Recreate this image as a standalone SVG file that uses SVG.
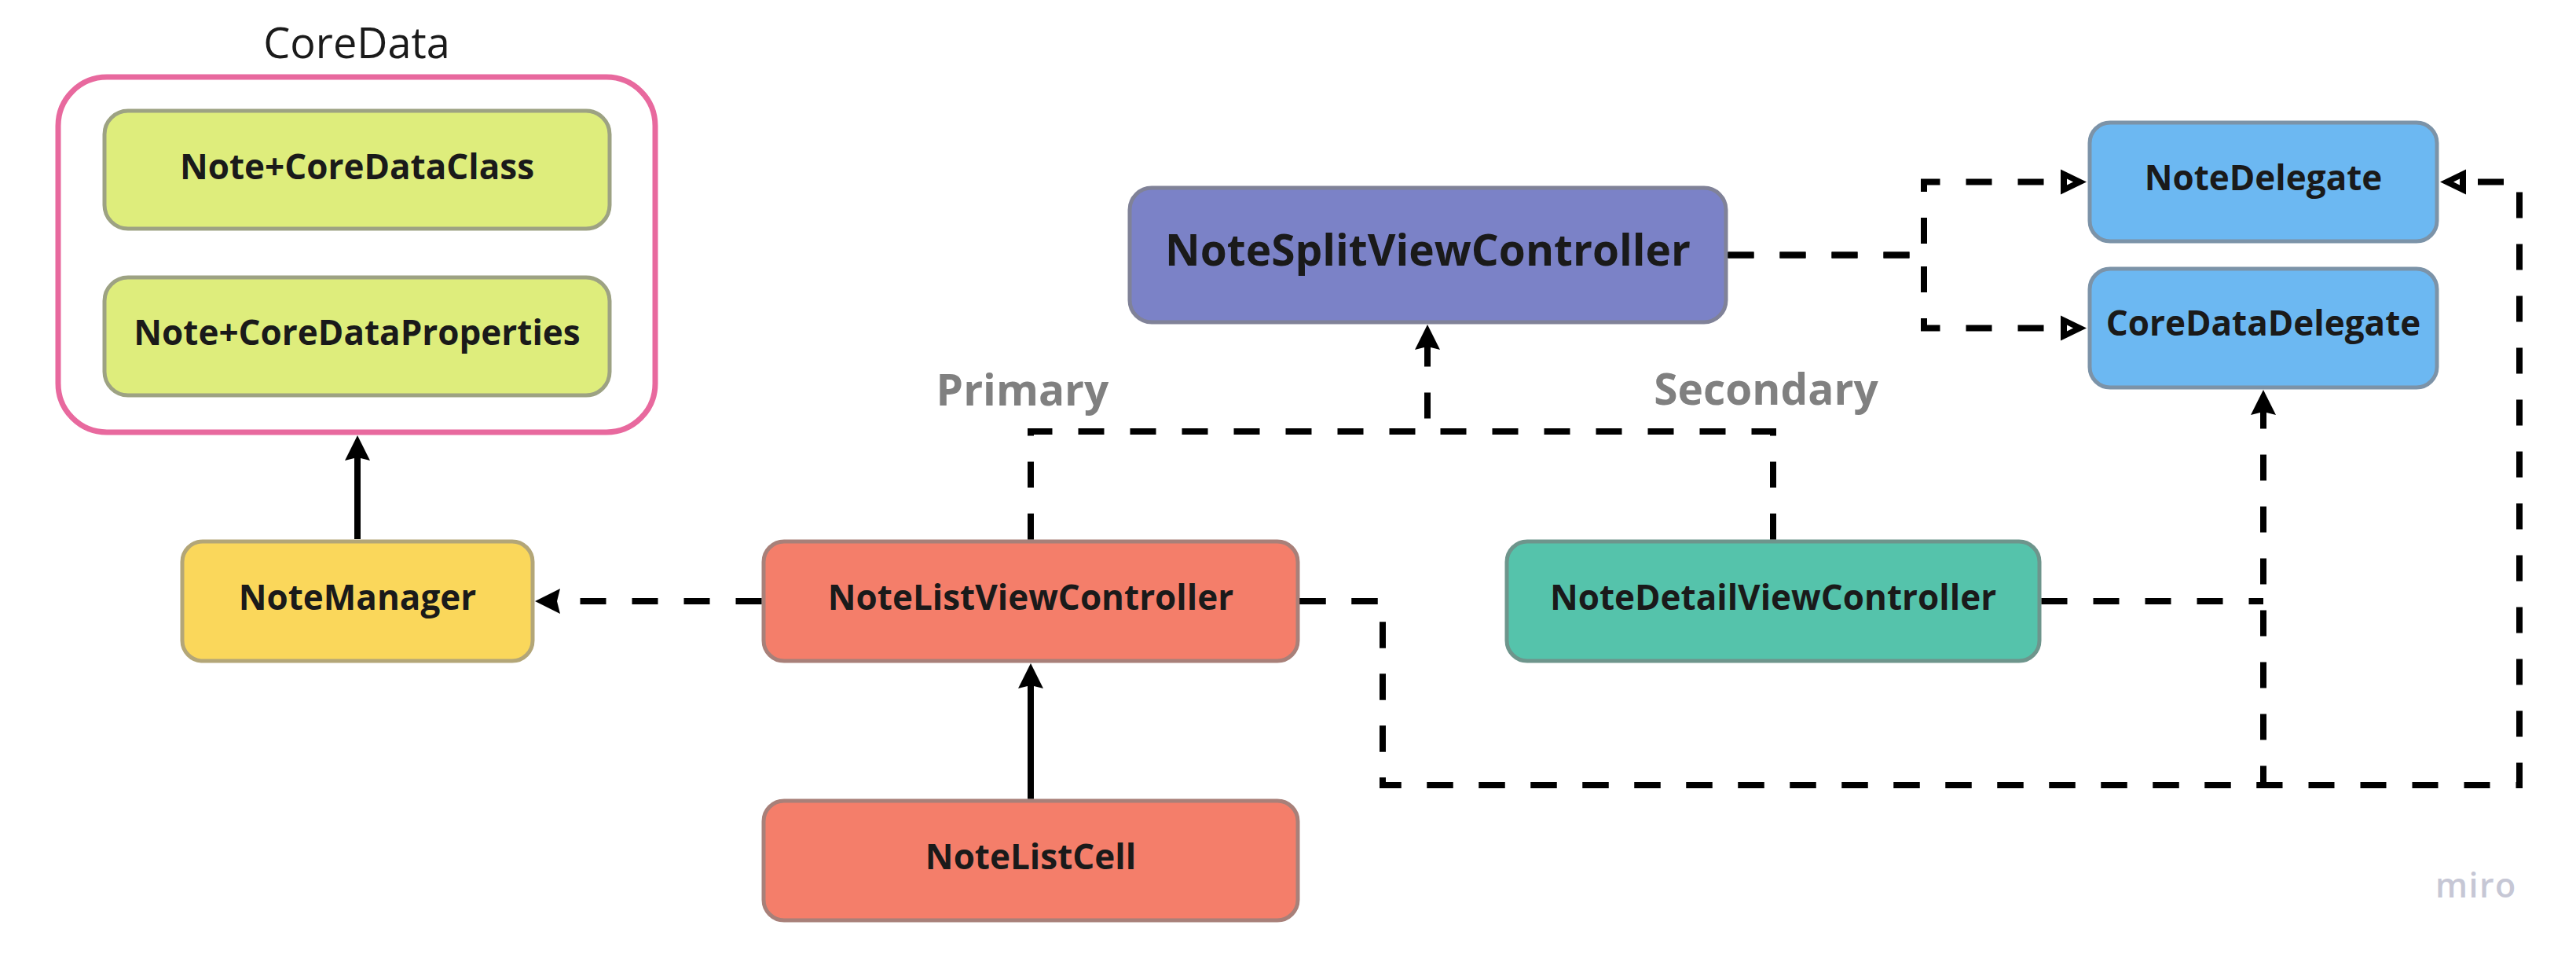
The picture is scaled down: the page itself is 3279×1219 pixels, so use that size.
<svg xmlns="http://www.w3.org/2000/svg" width="3279" height="1219" viewBox="0 0 3279 1219">
<style>
.node{stroke-width:5}
.lbl{font-family:"Open Sans","Liberation Sans",sans-serif;font-weight:700;font-size:44px;fill:#1a1a1a;text-anchor:middle}
.big{font-size:55px}
.side{font-family:"Open Sans","Liberation Sans",sans-serif;font-weight:700;font-size:55px;fill:#808080;text-anchor:middle}
.ln{fill:none;stroke:#000;stroke-width:8}
.dash{stroke-dasharray:33 33}
</style>
<defs>
<marker id="af" markerUnits="userSpaceOnUse" viewBox="-2 -20 40 40" markerWidth="40" markerHeight="40" refX="4" refY="0" orient="auto" overflow="visible">
<path d="M0,-16 L32,0 L0,16 L4,0 Z" fill="#000"/>
</marker>
<marker id="ah" markerUnits="userSpaceOnUse" viewBox="-2 -20 40 40" markerWidth="40" markerHeight="40" refX="0" refY="0" orient="auto" overflow="visible">
<path d="M0,-16 L33,0 L0,16 Z M8,-4 L8,4 L16,0 Z" fill="#000" fill-rule="evenodd"/>
</marker>
</defs>
<rect width="3279" height="1219" fill="#ffffff"/>

<g id="coredata">
<text x="454" y="74" style="font-family:'Open Sans','Liberation Sans',sans-serif;font-size:54px;fill:#1a1a1a;text-anchor:middle">CoreData</text>
<rect x="74" y="98" width="760" height="452" rx="62" fill="#ffffff" stroke="#e8699e" stroke-width="7"/>
</g>
<g id="note-coredataclass">
<rect class="node" x="133" y="141" width="643" height="150" rx="30" fill="#deed7c" stroke="#9da283"/>
<text class="lbl" x="454.5" y="228">Note+CoreDataClass</text>
</g>
<g id="note-coredataproperties">
<rect class="node" x="133" y="353" width="643" height="150" rx="30" fill="#deed7c" stroke="#9da283"/>
<text class="lbl" x="454.5" y="439">Note+CoreDataProperties</text>
</g>
<g id="notemanager">
<rect class="node" x="232" y="689" width="446" height="152" rx="26" fill="#fad75b" stroke="#b3a678"/>
<text class="lbl" x="455" y="776">NoteManager</text>
</g>
<g id="notelistviewcontroller">
<rect class="node" x="972" y="689" width="680" height="152" rx="26" fill="#f47e6a" stroke="#a88079"/>
<text class="lbl" x="1312" y="776">NoteListViewController</text>
</g>
<g id="notelistcell">
<rect class="node" x="972" y="1019" width="680" height="152" rx="26" fill="#f47e6a" stroke="#a88079"/>
<text class="lbl" x="1312" y="1106">NoteListCell</text>
</g>
<g id="notedetailviewcontroller">
<rect class="node" x="1918" y="689" width="678" height="152" rx="26" fill="#55c3ab" stroke="#6e958c"/>
<text class="lbl" x="2257" y="776">NoteDetailViewController</text>
</g>
<g id="notesplitviewcontroller">
<rect class="node" x="1438" y="239" width="759" height="171" rx="28" fill="#7b82c7" stroke="#808298"/>
<text class="lbl big" x="1817.5" y="338">NoteSplitViewController</text>
</g>
<g id="notedelegate">
<rect class="node" x="2660" y="156" width="442" height="151" rx="26" fill="#6cb8f2" stroke="#7c93a8"/>
<text class="lbl" x="2881" y="242">NoteDelegate</text>
</g>
<g id="coredatadelegate">
<rect class="node" x="2660" y="342" width="442" height="151" rx="26" fill="#6cb8f2" stroke="#7c93a8"/>
<text class="lbl" x="2881" y="427">CoreDataDelegate</text>
</g>

<g id="connectors">
<path class="ln" d="M455,686 V582" marker-end="url(#af)"/>
<path class="ln" d="M1312,1016.5 V872" marker-end="url(#af)"/>
<path class="ln dash" d="M969.5,765 H709" marker-end="url(#af)"/>
<path class="ln dash" d="M1312,686.5 V549 H1817"/>
<path class="ln dash" d="M2257,686.5 V549 H1817 V441" marker-end="url(#af)"/>
<path class="ln dash" d="M2199.5,324.5 H2449 V231.5 H2623" marker-end="url(#ah)"/>
<path class="ln dash" d="M2199.5,324.5 H2449 V417.5 H2623" marker-end="url(#ah)"/>
<path class="ln dash" d="M2598.5,765 H2881"/>
<path class="ln dash" d="M1654.5,765 H1760 V999 H3207 V231.5 H3139" marker-end="url(#ah)"/>
<path class="ln dash" d="M1654.5,765 H1760 V999 H2881 V524" marker-end="url(#af)"/>
<text class="side" x="1301.5" y="516">Primary</text>
<text class="side" x="2248" y="515">Secondary</text>
</g>

<text x="3100" y="1142" style="font-family:'Open Sans','Liberation Sans',sans-serif;font-weight:600;font-size:43px;fill:#c6c7d5;letter-spacing:1.5px">miro</text>
</svg>
